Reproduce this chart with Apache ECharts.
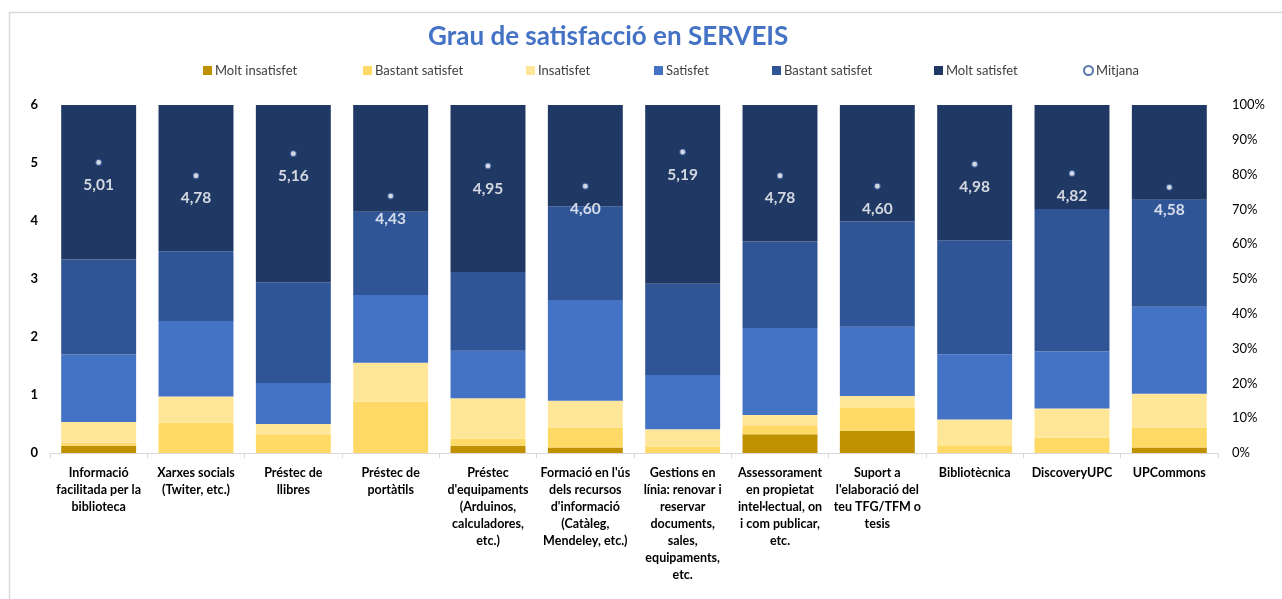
<!DOCTYPE html>
<html>
<head>
<meta charset="utf-8">
<title>Grau de satisfacció en SERVEIS</title>
<script src="https://cdn.jsdelivr.net/npm/echarts@6/dist/echarts.min.js"></script>
<style>
  html, body { margin: 0; padding: 0; background: #fff; }
  #chart { width: 1282px; height: 599px; }
</style>
</head>
<body>
<div id="chart"></div>
<script>
// categories (line breaks as in the original labels)
var categories = [
  "Informació\nfacilitada per la\nbiblioteca",
  "Xarxes socials\n(Twiter, etc.)",
  "Préstec de\nllibres",
  "Préstec de\nportàtils",
  "Préstec\nd'equipaments\n(Arduinos,\ncalculadores,\netc.)",
  "Formació en l'ús\ndels recursos\nd'informació\n(Catàleg,\nMendeley, etc.)",
  "Gestions en\nlínia: renovar i\nreservar\ndocuments,\nsales,\nequipaments,\netc.",
  "Assessorament\nen propietat\nintel·lectual, on\ni com publicar,\netc.",
  "Suport a\nl'elaboració del\nteu TFG/TFM o\ntesis",
  "Bibliotècnica",
  "DiscoveryUPC",
  "UPCommons"
];

// percentages per answer
var moltInsatisfet   = [2.1, 0,    0,    0,    2.1,  1.6,  0,    5.4,  6.4,  0,    0,    1.6];
var bastantInsat     = [0.9, 8.7,  5.4,  14.7, 2.0,  5.7,  1.8,  2.6,  6.5,  2.0,  4.4,  5.7];
var insatisfet       = [5.9, 7.5,  2.9,  11.2, 11.6, 7.7,  5.0,  2.9,  3.5,  7.6,  8.4,  9.7];
var satisfet         = [19.4, 21.7, 11.8, 19.5, 13.7, 29.0, 15.6, 25.0, 19.9, 18.8, 16.4, 25.0];
var bastantSatisfet  = [27.3, 20.1, 29.0, 23.9, 22.6, 26.9, 26.2, 24.9, 30.2, 32.7, 40.9, 30.8];
var moltSatisfet     = [44.4, 42.0, 50.9, 30.7, 48.0, 29.1, 51.4, 39.2, 33.5, 38.9, 29.9, 27.2];

// mean score (0-6 scale)
var mitjana = [5.01, 4.78, 5.16, 4.43, 4.95, 4.60, 5.19, 4.78, 4.60, 4.98, 4.82, 4.58];

var FONT = "Lato, 'Open Sans', sans-serif";

function barSeries(name, data, color) {
  return {
    name: name,
    type: "bar",
    stack: "total",
    yAxisIndex: 1,
    barWidth: "77%",
    data: data,
    itemStyle: { color: color },
    emphasis: { disabled: true }
  };
}

function legendAt(name, left, icon) {
  return {
    data: [{ name: name, icon: icon || "rect" }],
    left: left,
    top: 64,
    padding: 0,
    itemWidth: 9,
    itemHeight: 9,
    selectedMode: false,
    textStyle: { color: "#404040", fontSize: 13, fontFamily: FONT, padding: [0, 0, 0, -2] }
  };
}

var chart = echarts.init(document.getElementById("chart"));

var option = {
  backgroundColor: "#fff",
  animation: false,
  title: {
    text: "Grau de satisfacció en SERVEIS",
    left: 428,
    top: 24,
    padding: 0,
    textStyle: { color: "#4472C4", fontSize: 26, fontWeight: "bold", fontFamily: FONT }
  },
  graphic: [{
    type: "rect",
    left: 7,
    top: 10,
    shape: { width: 1300, height: 620 },
    style: { fill: "none", stroke: "#D9D9D9", lineWidth: 1.5 },
    silent: true
  }],
  legend: [
    legendAt("Molt insatisfet", 203),
    legendAt("Bastant satisfet", 363),
    legendAt("Insatisfet", 526),
    legendAt("Satisfet", 654),
    legendAt("Bastant satisfet ", 772),
    legendAt("Molt satisfet", 934),
    legendAt("Mitjana", 1083, "circle")
  ],
  grid: { left: 50, right: 64, top: 105, bottom: 146 },
  xAxis: {
    type: "category",
    data: categories,
    axisLine: { lineStyle: { color: "#D9D9D9", width: 1 } },
    axisTick: { show: true, length: 5, lineStyle: { color: "#D9D9D9" } },
    axisLabel: {
      interval: 0,
      margin: 11,
      color: "#000",
      fontWeight: "bold",
      fontSize: 12.5,
      lineHeight: 17,
      fontFamily: FONT
    }
  },
  yAxis: [
    {
      type: "value",
      min: 0,
      max: 6,
      interval: 1,
      axisLine: { show: false },
      axisTick: { show: false },
      splitLine: { show: false },
      axisLabel: { color: "#000", fontWeight: "bold", fontSize: 13, margin: 12, fontFamily: FONT }
    },
    {
      type: "value",
      min: 0,
      max: 100,
      interval: 10,
      axisLine: { show: false },
      axisTick: { show: false },
      splitLine: { show: false },
      axisLabel: { color: "#000", fontSize: 13, margin: 14, fontFamily: FONT, formatter: "{value}%" }
    }
  ],
  series: [
    barSeries("Molt insatisfet", moltInsatisfet, "#BF9000"),
    barSeries("Bastant satisfet", bastantInsat, "#FFD966"),
    barSeries("Insatisfet", insatisfet, "#FFE699"),
    barSeries("Satisfet", satisfet, "#4472C4"),
    barSeries("Bastant satisfet ", bastantSatisfet, "#2F5597"),
    barSeries("Molt satisfet", moltSatisfet, "#203864"),
    {
      name: "Mitjana",
      type: "scatter",
      yAxisIndex: 0,
      z: 5,
      symbol: "circle",
      symbolSize: 6,
      data: mitjana,
      itemStyle: { color: "#fff", borderColor: "#2F5597", borderWidth: 1.2 },
      label: {
        show: true,
        position: "bottom",
        distance: 11,
        color: "#fff",
        fontSize: 15.5,
        fontWeight: "bold",
        fontFamily: FONT,
        formatter: function (p) { return p.value.toFixed(2).replace(".", ","); }
      },
      emphasis: { disabled: true }
    }
  ]
};

chart.setOption(option);
</script>
</body>
</html>
